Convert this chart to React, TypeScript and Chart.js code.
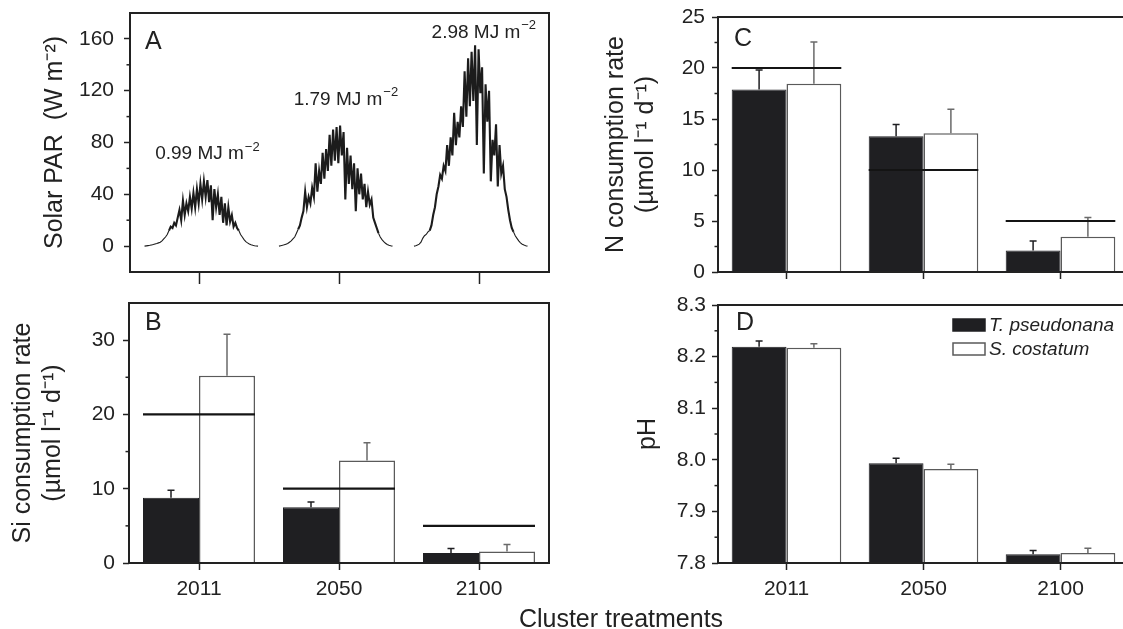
import React, { useEffect, useRef } from 'react';
import { Chart, registerables } from 'chart.js';

Chart.register(...registerables);

const FONT = "'Liberation Sans', Arial, Helvetica, sans-serif";
const INK = '#222222';
const BAR_BLACK = '#1f1f22';
const BAR_EDGE = '#5a5a5a';

// ---------- Panel A: solar PAR over three light periods ----------
const parOffsetsH = [0, 0.3, 0.6, 0.9, 1.2, 1.5, 1.8, 2.1, 2.4, 2.7, 3, 3.3, 3.6, 3.9, 4.2, 4.5, 4.8, 5.1, 5.4, 5.7, 6, 6.3, 6.6, 6.9, 7.2, 7.5, 7.8, 8.1, 8.4, 8.7, 9, 9.3, 9.6, 9.9, 10.2, 10.5, 10.8, 11.1, 11.4, 11.7, 12, 12.3, 12.6, 12.9, 13.2, 13.5, 13.8, 14.1, 14.4, 14.7, 15, 15.3, 15.6, 15.9, 16.2, 16.5, 16.8, 17.1, 17.4, 17.7, 18, 18.3, 18.6, 18.9, 19.2, 19.5];
const parDayStart = [2.5, 25.6, 48.8];
const parDay2011 = [0, 0.2, 0.4, 0.6, 0.9, 1.2, 1.6, 2, 2.5, 3, 4, 5.5, 7, 9, 12, 15, 14, 18, 16, 22, 28, 20, 35, 24, 33, 27, 38, 29, 41, 30, 44, 33, 48, 36, 50, 38, 51, 34, 47, 20, 44, 30, 40, 24, 38, 18, 33, 16, 30, 19, 24, 15, 18, 14, 12, 9, 7, 5, 3.5, 2.5, 1.6, 1, 0.6, 0.3, 0.1, 0];
const parDay2050 = [0, 0.3, 0.6, 1, 1.5, 2, 3, 4, 5.5, 7, 10, 13, 16, 22, 27, 42, 30, 38, 33, 45, 38, 64, 42, 58, 48, 72, 52, 75, 58, 86, 62, 90, 66, 92, 64, 93, 70, 88, 36, 76, 48, 70, 44, 64, 27, 60, 40, 56, 36, 48, 30, 42, 32, 36, 22, 18, 14, 10, 7, 5, 3.5, 2.2, 1.3, 0.7, 0.3, 0];
const parDay2100 = [0, 0.3, 0.8, 1.5, 3, 6, 8, 9, 11, 12, 16, 24, 30, 40, 46, 55, 52, 62, 58, 78, 62, 84, 70, 103, 78, 96, 84, 108, 92, 135, 100, 145, 108, 150, 112, 155, 78, 152, 118, 138, 56, 125, 96, 120, 50, 82, 70, 94, 46, 78, 56, 62, 44, 38, 28, 20, 14, 11, 8, 6, 4, 2.5, 1.5, 0.8, 0.3, 0];
const parDailyTotals = ['0.99', '1.79', '2.98'];
const parYTicks = [0, 40, 80, 120, 160];
const parYMinor = [20, 60, 100, 140];
const parXTicks = [12, 36, 60];

// ---------- Bar panels ----------
const treatments = ['2011', '2050', '2100'];
const speciesNames = ['T. pseudonana', 'S. costatum'];

const siTp = [8.8, 7.5, 1.35];
const siTpSE = [1.0, 0.7, 0.6];
const siSc = [25.2, 13.8, 1.55];
const siScSE = [5.6, 2.4, 0.95];
const siTarget = [20, 10, 5];
const siYTicks = [0, 10, 20, 30];
const siYMinor = [5, 15, 25];

const nTp = [17.9, 13.3, 2.1];
const nTpSE = [1.9, 1.15, 0.95];
const nSc = [18.45, 13.6, 3.45];
const nScSE = [4.1, 2.35, 1.9];
const nTarget = [20, 10, 5];
const nYTicks = [0, 5, 10, 15, 20, 25];
const nYMinor = [2.5, 7.5, 12.5, 17.5, 22.5];

const phTp = [8.219, 7.9935, 7.817];
const phTpSE = [0.011, 0.0095, 0.007];
const phSc = [8.217, 7.982, 7.8195];
const phScSE = [0.008, 0.0096, 0.009];
const phYTicks = [7.8, 7.9, 8.0, 8.1, 8.2, 8.3];
const phYMinor = [7.85, 7.95, 8.05, 8.15, 8.25];

const tickFont = { family: FONT, size: 21 };
const titleFont = { family: FONT, size: 25 };

function gridCfg(len: number) {
  return { display: true, drawOnChartArea: false, drawTicks: true, tickLength: len, tickColor: INK, tickWidth: 1.5, offset: false };
}

function fixY(width: number) {
  return (s: any) => {
    s.width = width;
    s.paddingTop = 0;
    s.paddingBottom = 0;
  };
}

function fixX(height: number) {
  return (s: any) => {
    s.height = height;
    s.paddingLeft = 0;
    s.paddingRight = 0;
  };
}

function decoPlugin(letter: string, dx: number, dy: number, minor: number[]) {
  return {
    id: 'deco',
    afterDraw(chart: any) {
      const { ctx, chartArea: a } = chart;
      const ys = chart.scales.y;
      ctx.save();
      ctx.strokeStyle = INK;
      ctx.lineWidth = 1.5;
      minor.forEach((v) => {
        const py = ys.getPixelForValue(v);
        ctx.beginPath();
        ctx.moveTo(a.left - 3.5, py);
        ctx.lineTo(a.left, py);
        ctx.stroke();
      });
      ctx.lineWidth = 2;
      ctx.strokeRect(a.left, a.top, a.right - a.left, a.bottom - a.top);
      ctx.fillStyle = INK;
      ctx.font = `25px ${FONT}`;
      ctx.textBaseline = 'middle';
      ctx.textAlign = 'left';
      ctx.fillText(letter, a.left + dx, a.top + dy);
      ctx.restore();
    },
  };
}

function errorBarPlugin() {
  return {
    id: 'errorBars',
    afterDatasetsDraw(chart: any) {
      const { ctx } = chart;
      const ys = chart.scales.y;
      chart.data.datasets.forEach((ds: any, di: number) => {
        const meta = chart.getDatasetMeta(di);
        meta.data.forEach((bar: any, i: number) => {
          const top = ys.getPixelForValue(ds.data[i] + ds.errors[i]);
          ctx.save();
          ctx.strokeStyle = ds.errorColor;
          ctx.lineWidth = 1.5;
          ctx.beginPath();
          ctx.moveTo(bar.x, bar.y);
          ctx.lineTo(bar.x, top);
          ctx.moveTo(bar.x - 3.5, top);
          ctx.lineTo(bar.x + 3.5, top);
          ctx.stroke();
          ctx.restore();
        });
      });
    },
  };
}

function refLinePlugin(values: number[] | null) {
  return {
    id: 'refLines',
    afterDatasetsDraw(chart: any) {
      if (!values) return;
      const { ctx } = chart;
      const ys = chart.scales.y;
      const m0 = chart.getDatasetMeta(0);
      const m1 = chart.getDatasetMeta(1);
      ctx.save();
      ctx.strokeStyle = '#141414';
      ctx.lineWidth = 2.2;
      values.forEach((v, i) => {
        const b0 = m0.data[i];
        const b1 = m1.data[i];
        const py = ys.getPixelForValue(v);
        ctx.beginPath();
        ctx.moveTo(b0.x - b0.width / 2, py);
        ctx.lineTo(b1.x + b1.width / 2, py);
        ctx.stroke();
      });
      ctx.restore();
    },
  };
}

function boxLegendPlugin(x: number, y: number, gap: number) {
  return {
    id: 'boxLegend',
    afterDraw(chart: any) {
      const { ctx } = chart;
      ctx.save();
      chart.data.datasets.forEach((ds: any, i: number) => {
        const yy = y + i * gap;
        ctx.fillStyle = ds.backgroundColor;
        ctx.fillRect(x, yy, 32, 12);
        ctx.strokeStyle = ds.borderColor;
        ctx.lineWidth = 1.5;
        ctx.strokeRect(x, yy, 32, 12);
        ctx.fillStyle = INK;
        ctx.font = `italic 19px ${FONT}`;
        ctx.textBaseline = 'middle';
        ctx.textAlign = 'left';
        ctx.fillText(ds.label, x + 36, yy + 6.5);
      });
      ctx.restore();
    },
  };
}

function dayTotalsPlugin(anchors: { x: number; y: number }[]) {
  return {
    id: 'dayTotals',
    afterDraw(chart: any) {
      const { ctx } = chart;
      const xs = chart.scales.x;
      const ys = chart.scales.y;
      ctx.save();
      ctx.fillStyle = INK;
      ctx.textBaseline = 'middle';
      ctx.textAlign = 'left';
      parDailyTotals.forEach((t, i) => {
        const main = `${t} MJ m`;
        const sup = '\u22122';
        ctx.font = `19px ${FONT}`;
        const w1 = ctx.measureText(main).width;
        ctx.font = `13px ${FONT}`;
        const w2 = ctx.measureText(sup).width;
        const cx = xs.getPixelForValue(anchors[i].x);
        const cy = ys.getPixelForValue(anchors[i].y);
        const x0 = cx - (w1 + w2 + 1) / 2;
        ctx.font = `19px ${FONT}`;
        ctx.fillText(main, x0, cy);
        ctx.font = `13px ${FONT}`;
        ctx.fillText(sup, x0 + w1 + 1, cy - 7);
      });
      ctx.restore();
    },
  };
}

function makeBarChart(
  canvas: HTMLCanvasElement,
  o: {
    tp: number[]; tpSE: number[]; sc: number[]; scSE: number[];
    target: number[] | null; min: number; max: number; yTicks: number[]; yMinor: number[];
    yWidth: number; xHeight: number; padTop: number; tickPad: number; showX: boolean;
    title: string | string[]; titlePad: number; letter: string; ldx: number; ldy: number;
    decimals: number; legend: boolean;
  }
) {
  const plugins: any[] = [errorBarPlugin(), refLinePlugin(o.target), decoPlugin(o.letter, o.ldx, o.ldy, o.yMinor)];
  if (o.legend) plugins.push(boxLegendPlugin(393, 29, 24));
  return new Chart(canvas, {
    type: 'bar',
    data: {
      labels: treatments,
      datasets: [
        {
          label: speciesNames[0], data: o.tp, errors: o.tpSE, errorColor: BAR_BLACK,
          backgroundColor: BAR_BLACK, borderColor: BAR_BLACK, borderWidth: 1,
          categoryPercentage: 0.8, barPercentage: 1,
        } as any,
        {
          label: speciesNames[1], data: o.sc, errors: o.scSE, errorColor: '#6a6a6a',
          backgroundColor: '#ffffff', borderColor: BAR_EDGE, borderWidth: 1.5,
          categoryPercentage: 0.8, barPercentage: 1,
        } as any,
      ],
    },
    options: {
      animation: false,
      responsive: false,
      devicePixelRatio: 1,
      layout: { padding: { left: 0, top: o.padTop, right: 11, bottom: 0 } },
      plugins: { legend: { display: false }, tooltip: { enabled: false } },
      scales: {
        x: {
          afterFit: fixX(o.xHeight),
          ticks: { display: o.showX, font: tickFont, color: INK, padding: 7 },
          grid: gridCfg(7) as any,
          border: { display: false },
        },
        y: {
          min: o.min,
          max: o.max,
          afterBuildTicks: (s: any) => { s.ticks = o.yTicks.map((v) => ({ value: v })); },
          afterFit: fixY(o.yWidth),
          ticks: { font: tickFont, color: INK, padding: o.tickPad, callback: (v: any) => Number(v).toFixed(o.decimals) },
          grid: gridCfg(6) as any,
          border: { display: false },
          title: { display: true, text: o.title, font: titleFont, color: INK, padding: { top: o.titlePad, bottom: 0 } },
        },
      },
    } as any,
    plugins,
  });
}

export default function App() {
  const refA = useRef<HTMLCanvasElement>(null);
  const refB = useRef<HTMLCanvasElement>(null);
  const refC = useRef<HTMLCanvasElement>(null);
  const refD = useRef<HTMLCanvasElement>(null);

  useEffect(() => {
    const charts: Chart[] = [];
    const days = [parDay2011, parDay2050, parDay2100];
    charts.push(
      new Chart(refA.current!, {
        type: 'line',
        data: {
          datasets: days.map((ys, k) => ({
            data: ys.map((v, i) => ({ x: parDayStart[k] + parOffsetsH[i], y: v })),
            borderColor: '#1c1c1c',
            borderWidth: 2,
            segment: {
              borderWidth: (c: any) => ((c.p0.parsed.y + c.p1.parsed.y) / 2 < 12 ? 1.1 : 2.1),
            },
            pointRadius: 0,
            fill: false,
            tension: 0,
          })),
        },
        options: {
          animation: false,
          responsive: false,
          devicePixelRatio: 1,
          layout: { padding: { left: 0, top: 13, right: 11, bottom: 0 } },
          plugins: { legend: { display: false }, tooltip: { enabled: false } },
          scales: {
            x: {
              type: 'linear',
              min: 0,
              max: 72,
              afterBuildTicks: (s: any) => { s.ticks = parXTicks.map((v) => ({ value: v })); },
              afterFit: fixX(28),
              ticks: { callback: () => '', font: tickFont },
              grid: gridCfg(12) as any,
              border: { display: false },
            },
            y: {
              min: -20,
              max: 180,
              afterBuildTicks: (s: any) => { s.ticks = parYTicks.map((v) => ({ value: v })); },
              afterFit: fixY(130),
              ticks: { font: tickFont, color: INK, padding: 10 },
              grid: gridCfg(6) as any,
              border: { display: false },
              title: { display: true, text: 'Solar PAR  (W m\u207B\u00B2)', font: titleFont, color: INK, padding: { top: 40, bottom: 0 } },
            },
          },
        } as any,
        plugins: [
          decoPlugin('A', 15, 29, parYMinor),
          dayTotalsPlugin([{ x: 13.3, y: 71 }, { x: 37.1, y: 113 }, { x: 60.8, y: 165 }]),
        ],
      })
    );

    charts.push(
      makeBarChart(refB.current!, {
        tp: siTp, tpSE: siTpSE, sc: siSc, scSE: siScSE, target: siTarget,
        min: 0, max: 35, yTicks: siYTicks, yMinor: siYMinor,
        yWidth: 129, xHeight: 66, padTop: 13, tickPad: 8, showX: true,
        title: ['Si consumption rate', '(\u00B5mol l\u207B\u00B9 d\u207B\u00B9)'], titlePad: 8,
        letter: 'B', ldx: 16, ldy: 20, decimals: 0, legend: false,
      })
    );
    charts.push(
      makeBarChart(refC.current!, {
        tp: nTp, tpSE: nTpSE, sc: nSc, scSE: nScSE, target: nTarget,
        min: 0, max: 25, yTicks: nYTicks, yMinor: nYMinor,
        yWidth: 158, xHeight: 28, padTop: 17, tickPad: 7, showX: false,
        title: ['N consumption rate', '(\u00B5mol l\u207B\u00B9 d\u207B\u00B9)'], titlePad: 41,
        letter: 'C', ldx: 16, ldy: 22, decimals: 0, legend: false,
      })
    );
    charts.push(
      makeBarChart(refD.current!, {
        tp: phTp, tpSE: phTpSE, sc: phSc, scSE: phScSE, target: null,
        min: 7.8, max: 8.3, yTicks: phYTicks, yMinor: phYMinor,
        yWidth: 158, xHeight: 66, padTop: 15, tickPad: 6, showX: true,
        title: 'pH', titlePad: 73,
        letter: 'D', ldx: 18, ldy: 18, decimals: 1, legend: true,
      })
    );
    return () => charts.forEach((c) => c.destroy());
  }, []);

  const cv = (left: number, top: number, w: number, h: number): React.CSSProperties => ({
    position: 'absolute', left, top, width: w, height: h,
  });

  return (
    <div style={{ position: 'absolute', left: 0, top: 0, width: 1123, height: 629, overflow: 'hidden', background: '#ffffff' }}>
      <canvas ref={refA} width={560} height={300} style={cv(0, 0, 560, 300)} />
      <canvas ref={refB} width={560} height={339} style={cv(0, 290, 560, 339)} />
      <canvas ref={refC} width={580} height={300} style={cv(560, 0, 580, 300)} />
      <canvas ref={refD} width={580} height={339} style={cv(560, 290, 580, 339)} />
      <div
        style={{
          position: 'absolute', left: 421, top: 603, width: 400, height: 30, lineHeight: '30px',
          textAlign: 'center', fontFamily: FONT, fontSize: 25, color: INK,
        }}
      >
        Cluster treatments
      </div>
    </div>
  );
}
